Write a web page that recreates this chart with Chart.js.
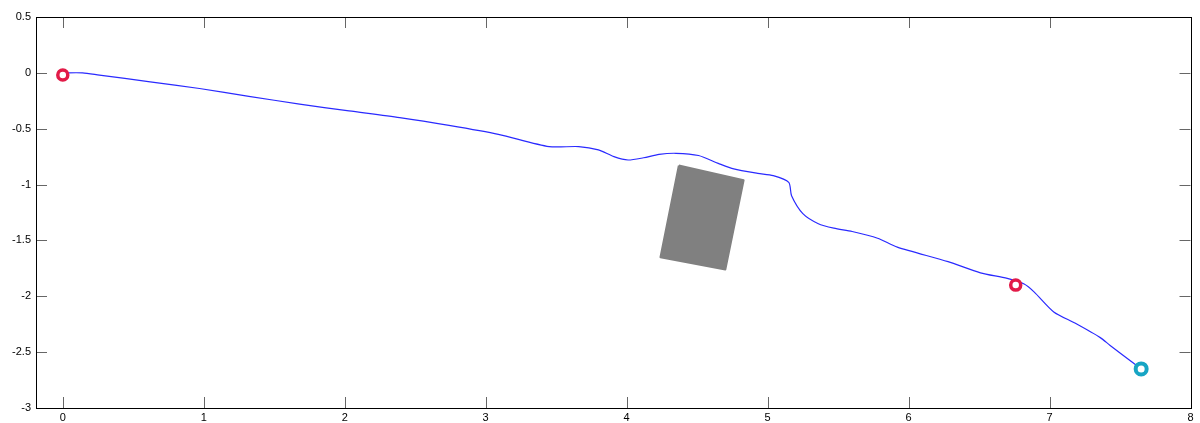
<!DOCTYPE html>
<html>
<head>
<meta charset="utf-8">
<script src="https://cdn.jsdelivr.net/npm/chart.js@4.4.1/dist/chart.umd.min.js"></script>
<style>
  html, body { margin: 0; padding: 0; background: #fff; }
  #wrap { width: 1200px; height: 423px; }
</style>
</head>
<body>
<div id="wrap"><canvas id="pathChart"></canvas></div>
<script>
// path traced by the vehicle
var pathX = [0, 0.14, 0.26, 0.62, 0.97, 1.32, 1.68, 2.03, 2.39, 2.74, 3.09, 3.45, 3.66, 3.80, 3.91, 4.01, 4.12, 4.23, 4.35, 4.51, 4.65, 4.76, 4.93, 5.04, 5.15, 5.17, 5.25, 5.36, 5.47, 5.60, 5.78, 5.92, 6.28, 6.51, 6.70, 6.82, 6.89, 7.03, 7.18, 7.36, 7.43, 7.62, 7.65];
var pathY = [0, 0, -0.02, -0.08, -0.14, -0.21, -0.28, -0.34, -0.40, -0.47, -0.55, -0.66, -0.66, -0.69, -0.75, -0.78, -0.76, -0.73, -0.72, -0.74, -0.81, -0.86, -0.90, -0.92, -0.98, -1.10, -1.26, -1.35, -1.39, -1.42, -1.48, -1.56, -1.69, -1.79, -1.84, -1.89, -1.96, -2.14, -2.24, -2.37, -2.44, -2.62, -2.64];

// obstacle corners (closed)
var obstacleX = [4.37, 4.83, 4.70, 4.24, 4.37];
var obstacleY = [-0.83, -0.96, -1.76, -1.65, -0.83];

// waypoints
var waypointX = [0, 6.76];
var waypointY = [-0.02, -1.90];
var goalX = [7.65];
var goalY = [-2.65];

var xTicks = [0, 1, 2, 3, 4, 5, 6, 7, 8];
var yTicks = [0.5, 0, -0.5, -1, -1.5, -2, -2.5, -3];

function toPoints(xs, ys) {
    return xs.map(function (x, i) { return { x: x, y: ys[i] }; });
}

// box around the plot with inward tick marks
var boxTicks = {
    id: 'boxTicks',
    afterDatasetsDraw: function (chart) {
        var ctx = chart.ctx;
        var a = chart.chartArea;
        var xs = chart.scales.x, ys = chart.scales.y;
        var len = 11;
        ctx.save();
        ctx.strokeStyle = '#666';
        ctx.lineWidth = 1;
        ctx.beginPath();
        xTicks.forEach(function (v) {
            var px = Math.round(xs.getPixelForValue(v)) + 0.5;
            ctx.moveTo(px, a.bottom); ctx.lineTo(px, a.bottom - len);
            ctx.moveTo(px, a.top); ctx.lineTo(px, a.top + len);
        });
        yTicks.forEach(function (v) {
            var py = Math.round(ys.getPixelForValue(v)) + 0.5;
            ctx.moveTo(a.left, py); ctx.lineTo(a.left + len, py);
            ctx.moveTo(a.right, py); ctx.lineTo(a.right - len, py);
        });
        ctx.stroke();
        ctx.strokeStyle = '#000';
        ctx.strokeRect(Math.round(a.left) + 0.5, Math.round(a.top) + 0.5,
            Math.round(a.right - a.left), Math.round(a.bottom - a.top));
        ctx.restore();
    }
};

var ctx = document.getElementById('pathChart').getContext('2d');
var chart = new Chart(ctx, {
    type: 'scatter',
    data: {
        datasets: [{
            label: 'obstacle',
            data: toPoints(obstacleX, obstacleY),
            showLine: true,
            borderColor: '#808080',
            backgroundColor: '#808080',
            borderWidth: 2,
            borderJoinStyle: 'round',
            pointRadius: 0,
            fill: 'shape',
            order: 3
        }, {
            label: 'path',
            data: toPoints(pathX, pathY),
            showLine: true,
            borderColor: '#2a2aff',
            borderWidth: 1.2,
            pointRadius: 0,
            tension: 0.25,
            fill: false,
            order: 2
        }, {
            label: 'waypoints',
            data: toPoints(waypointX, waypointY),
            pointRadius: 5,
            pointBorderWidth: 3.5,
            pointBorderColor: '#e21b48',
            pointBackgroundColor: '#ffffff',
            order: 1
        }, {
            label: 'goal',
            data: toPoints(goalX, goalY),
            pointRadius: 5.5,
            pointBorderWidth: 4,
            pointBorderColor: '#17a5c4',
            pointBackgroundColor: '#ffffff',
            order: 1
        }]
    },
    options: {
        responsive: true,
        maintainAspectRatio: false,
        animation: false,
        layout: { padding: { top: 17, right: 7, left: 0, bottom: 0 } },
        plugins: {
            legend: { display: false },
            tooltip: { enabled: false }
        },
        scales: {
            x: {
                type: 'linear',
                min: -0.19,
                max: 8,
                afterBuildTicks: function (s) { s.ticks = xTicks.map(function (v) { return { value: v }; }); },
                afterFit: function (s) { s.height = 15; },
                grid: { display: false, drawTicks: false },
                border: { display: false },
                ticks: {
                    padding: 3,
                    maxRotation: 0,
                    color: '#000',
                    callback: function (v) { return String(v); },
                    font: { family: 'Liberation Sans, Arial, sans-serif', size: 11 }
                }
            },
            y: {
                type: 'linear',
                min: -3,
                max: 0.5,
                afterBuildTicks: function (s) { s.ticks = yTicks.map(function (v) { return { value: v }; }); },
                afterFit: function (s) { s.width = 36; },
                grid: { display: false, drawTicks: false },
                border: { display: false },
                ticks: {
                    padding: 5,
                    color: '#000',
                    callback: function (v) { return String(v); },
                    font: { family: 'Liberation Sans, Arial, sans-serif', size: 11 }
                }
            }
        }
    },
    plugins: [boxTicks]
});
</script>
</body>
</html>
